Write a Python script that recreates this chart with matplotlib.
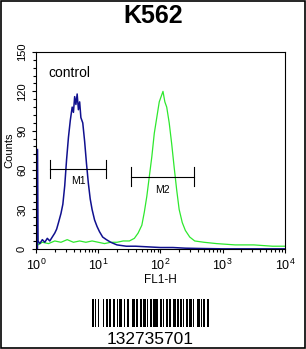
import matplotlib
matplotlib.use('Agg')
import matplotlib.pyplot as plt
from matplotlib.patches import Rectangle
from matplotlib.ticker import LogLocator, MultipleLocator, NullFormatter

plt.rcParams['font.family'] = ['Liberation Sans', 'DejaVu Sans']
plt.rcParams['mathtext.fontset'] = 'custom'
plt.rcParams['mathtext.rm'] = 'Liberation Sans'
plt.rcParams['mathtext.it'] = 'Liberation Sans'

# histogram traces, x as decades of FL1-H
blue_exp = [0, 0.02, 0.03, 0.06, 0.1, 0.14, 0.18, 0.22, 0.26, 0.3,
            0.33, 0.36, 0.4, 0.43, 0.46, 0.49, 0.52, 0.55, 0.58, 0.6,
            0.62, 0.64, 0.66, 0.68, 0.7, 0.72, 0.75, 0.78, 0.81, 0.84,
            0.87, 0.9, 0.94, 0.98, 1.02, 1.07, 1.13, 1.2, 1.3, 1.45,
            1.6, 1.8, 2.0, 2.2, 2.4, 2.6, 3.0, 3.5, 4.0]
blue_counts = [75, 75, 6, 4, 7, 5, 8, 6, 9, 12,
               15, 20, 27, 34, 48, 68, 85, 98, 108, 104,
               116, 110, 118, 106, 112, 100, 96, 82, 65, 50,
               38, 30, 22, 17, 13, 9, 7, 5, 3, 2,
               2, 1.5, 1, 1, 0.5, 0.3, 0, 0, 0]

green_exp = [0, 0.02, 0.03, 0.1, 0.2, 0.3, 0.4, 0.5, 0.6, 0.7,
             0.8, 0.9, 1.0, 1.1, 1.2, 1.3, 1.4, 1.5, 1.58, 1.64,
             1.7, 1.74, 1.78, 1.82, 1.86, 1.9, 1.94, 1.98, 2.01, 2.04,
             2.07, 2.1, 2.14, 2.18, 2.22, 2.26, 2.3, 2.35, 2.4, 2.47,
             2.55, 2.7, 2.9, 3.2, 3.5, 3.8, 4.0]
green_counts = [14, 14, 3, 5, 4, 6, 5, 7, 5, 6,
                5, 6, 5, 4, 5, 5, 6, 6, 8, 12,
                18, 28, 40, 55, 70, 88, 100, 112, 116, 120,
                112, 108, 96, 80, 62, 45, 30, 20, 14, 9,
                6, 5, 4, 3, 3, 2, 2]

# markers: (start, end, height, label, label height)
m1 = (1.7, 13.5, 61, 'M1', 52)
m2 = (34, 350, 55, 'M2', 45)

barcode_bits = ('1101001000011001101100110011011100100110100111011001100'
                '1110100110110111001101001110110011101101110100110111011'
                '0001110101100011')
barcode_text = '132735701'

fig = plt.figure(figsize=(3.06, 3.49), dpi=100)
ax = fig.add_axes([0.118, 0.287, 0.813, 0.564])

ax.plot([10 ** e for e in green_exp], green_counts, color='#2ee82e', lw=0.9)
ax.plot([10 ** e for e in blue_exp], blue_counts, color='#10108f', lw=1.1)
# the thick first-channel spike
ax.plot([1.01, 1.01], [0, blue_counts[0]], color='#10108f', lw=2.5)

for lo, hi, h, lab, lh in (m1, m2):
    ax.plot([lo, hi], [h, h], color='black', lw=0.8)
    ax.plot([lo, lo], [h - 7, h + 7], color='black', lw=0.8)
    ax.plot([hi, hi], [h - 7, h + 7], color='black', lw=0.8)
    ax.text((lo * hi) ** 0.5, lh, lab, ha='center', va='center', fontsize=7.5)

ax.text(1.6, 134, 'control', fontsize=10, ha='left', va='center')

ax.set_xscale('log')
ax.set_xlim(1, 1e4)
ax.set_ylim(0, 150)
ax.xaxis.set_major_locator(LogLocator(base=10, numticks=10))
ax.xaxis.set_minor_locator(LogLocator(base=10, subs=range(2, 10), numticks=10))
ax.xaxis.set_minor_formatter(NullFormatter())
ax.yaxis.set_major_locator(MultipleLocator(30))
ax.yaxis.set_minor_locator(MultipleLocator(6))
ax.tick_params(axis='x', labelsize=9)
ax.tick_params(axis='y', labelsize=8)
ax.tick_params(direction='out', length=3, width=0.8)
ax.tick_params(which='minor', direction='out', length=2, width=0.8)
for lab in ax.get_yticklabels():
    lab.set_rotation(90)
    lab.set_va('center')
ax.set_ylabel('Counts', fontsize=8, labelpad=2)
ax.set_xlabel('FL1-H', fontsize=8.5, labelpad=1)

fig.text(0.5, 0.954, 'K562', ha='center', va='center', fontsize=18, fontweight='bold')

# barcode
bx = fig.add_axes([0.302, 0.064, 0.382, 0.078])
for i, b in enumerate(barcode_bits):
    if b == '1':
        bx.bar(i, 1, width=1, color='black', align='edge')
bx.set_xlim(0, len(barcode_bits))
bx.set_ylim(0, 1)
bx.axis('off')
fig.text(0.49, 0.028, barcode_text, ha='center', va='center', fontsize=12.5)

fig.patches.append(Rectangle((0.002, 0.002), 0.995, 0.995, transform=fig.transFigure,
                             fill=False, edgecolor='black', lw=1.2))

fig.savefig('out.png', dpi=100)
